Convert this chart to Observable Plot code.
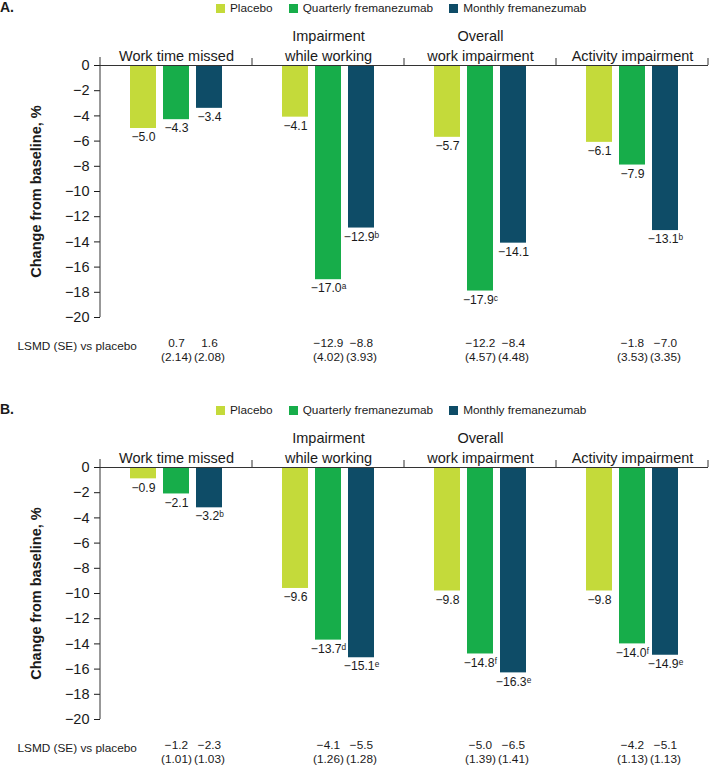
<!DOCTYPE html>
<html>
<head>
<meta charset="utf-8">
<script src="https://cdn.jsdelivr.net/npm/d3@7"></script>
<script src="https://cdn.jsdelivr.net/npm/@observablehq/plot@0.6"></script>
<style>
  html, body { margin: 0; padding: 0; background: #fff; }
  body { width: 709px; height: 765px; overflow: hidden; font-family: "Liberation Sans", Arial, sans-serif; color: #1a1a1a; }
  .panel { position: relative; width: 709px; height: 402px; }
  .panel-letter { position: absolute; left: 0px; top: 0px; font-weight: bold; font-size: 14px; line-height: 14px; }
  .legend-wrap { position: absolute; left: 216px; top: 0px; }
  .lg-swatches { font-size: 11.8px !important; font-family: "Liberation Sans", Arial, sans-serif !important; color: #1a1a1a !important; min-height: 16px !important; margin: 0 !important; }
  .lg-swatch { margin-right: 16px !important; }
  .lg-swatch > svg { margin-right: 5px !important; }
  .panel svg.plot { position: absolute; left: 0; top: 0; }
</style>
</head>
<body>
<div id="root"></div>
<script>
// ---------- shared data ----------
const categories = ["Work time missed", "Impairment while working", "Overall work impairment", "Activity impairment"];
const categoryLabels = ["Work time missed", "Impairment\nwhile working", "Overall\nwork impairment", "Activity impairment"];
const treatments = ["Placebo", "Quarterly fremanezumab", "Monthly fremanezumab"];
const colors = ["#c4da3a", "#17ad4a", "#0e4c67"];
const yTicks = [0, -2, -4, -6, -8, -10, -12, -14, -16, -18, -20];
const yLabel = "Change from baseline, %";
const lsmdLabel = "LSMD (SE) vs placebo";

// ---------- panel A ----------
const placeboA = [-5.0, -4.1, -5.7, -6.1];
const quarterlyA = [-4.3, -17.0, -17.9, -7.9];
const monthlyA = [-3.4, -12.9, -14.1, -13.1];
const placeboNotesA = ["", "", "", ""];
const quarterlyNotesA = ["", "ᵃ", "ᶜ", ""];
const monthlyNotesA = ["", "ᵇ", "", "ᵇ"];
const lsmdQuarterlyA = [0.7, -12.9, -12.2, -1.8];
const seQuarterlyA = [2.14, 4.02, 4.57, 3.53];
const lsmdMonthlyA = [1.6, -8.8, -8.4, -7.0];
const seMonthlyA = [2.08, 3.93, 4.48, 3.35];

// ---------- panel B ----------
const placeboB = [-0.9, -9.6, -9.8, -9.8];
const quarterlyB = [-2.1, -13.7, -14.8, -14.0];
const monthlyB = [-3.2, -15.1, -16.3, -14.9];
const placeboNotesB = ["", "", "", ""];
const quarterlyNotesB = ["", "ᵈ", "ᶠ", "ᶠ"];
const monthlyNotesB = ["ᵇ", "ᵉ", "ᵉ", "ᵉ"];
const lsmdQuarterlyB = [-1.2, -4.1, -5.0, -4.2];
const seQuarterlyB = [1.01, 1.26, 1.39, 1.13];
const lsmdMonthlyB = [-2.3, -5.5, -6.5, -5.1];
const seMonthlyB = [1.03, 1.28, 1.41, 1.13];

const FONT = "'Liberation Sans', Arial, sans-serif";
const minus = s => s.replace("-", "\u2212");
const fmt1 = v => minus(v.toFixed(1));
const fmt2 = v => v.toFixed(2);
const fmtTick = v => minus(String(v));

function makePanel(letter, series, notes, lsmdQ, seQ, lsmdM, seM) {
  const bars = [];
  categories.forEach((c, i) => {
    treatments.forEach((t, j) => {
      bars.push({cat: c, trt: t, value: series[j][i], label: fmt1(series[j][i]) + notes[j][i]});
    });
  });
  const lsmd = [];
  categories.forEach((c, i) => {
    lsmd.push({cat: c, trt: treatments[1], text: fmt1(lsmdQ[i]) + "\n(" + fmt2(seQ[i]) + ")"});
    lsmd.push({cat: c, trt: treatments[2], text: fmt1(lsmdM[i]) + "\n(" + fmt2(seM[i]) + ")"});
  });

  const panel = document.createElement("div");
  panel.className = "panel";

  const plot = Plot.plot({
    width: 709,
    height: 372,
    marginLeft: 100,
    marginRight: 1,
    marginTop: 65,
    marginBottom: 55,
    style: {fontFamily: FONT, fontSize: "14.5px", color: "#1a1a1a", background: "transparent", overflow: "visible"},
    fx: {domain: categories, padding: 0, label: null},
    x: {domain: treatments, paddingInner: 0.2, paddingOuter: 0.85, axis: null},
    y: {domain: [-20, 0]},
    color: {domain: treatments, range: colors},
    marks: [
      Plot.barY(bars, {fx: "cat", x: "trt", y: "value", fill: "trt"}),
      Plot.ruleY([0], {stroke: "#333", strokeWidth: 1}),
      Plot.text(bars, {fx: "cat", x: "trt", y: "value", text: "label", lineAnchor: "top", dy: 4, fontSize: 12.2}),
      Plot.axisY({ticks: yTicks, tickSize: 6, tickPadding: 5, label: null, tickFormat: fmtTick}),
      Plot.axisFx({anchor: "top", tickSize: 0, tickPadding: 5, label: null, lineHeight: 1.35,
        tickFormat: d => categoryLabels[categories.indexOf(d)]}),
      Plot.text(lsmd, {fx: "cat", x: "trt", text: "text", frameAnchor: "bottom", lineAnchor: "top", dy: 20, lineHeight: 1.15, fontSize: 11.8}),
      Plot.text([yLabel], {fx: () => categories[0], frameAnchor: "left", textAnchor: "middle", rotate: -90, dx: -64, fontWeight: "bold", fontSize: 14.5}),
      Plot.text([lsmdLabel], {fx: () => categories[0], frameAnchor: "bottom-left", textAnchor: "start", dx: -83, dy: 32, fontSize: 11.8})
    ]
  });

  // axis line and category separators derived from the plot's own scales
  const fx = plot.scale("fx");
  const y = plot.scale("y");
  const y0 = y.apply(0), y20 = y.apply(-20);
  const g = d3.select(plot).append("g").attr("stroke", "#333").attr("stroke-width", 1);
  const xLeft = fx.apply(categories[0]);
  g.append("line").attr("x1", xLeft).attr("x2", xLeft).attr("y1", y0 - 8).attr("y2", y20);
  categories.forEach(c => {
    const xe = fx.apply(c) + fx.bandwidth;
    g.append("line").attr("x1", xe).attr("x2", xe).attr("y1", y0 - 7).attr("y2", y0);
  });

  panel.appendChild(plot);

  const letterDiv = document.createElement("div");
  letterDiv.className = "panel-letter";
  letterDiv.textContent = letter;
  panel.appendChild(letterDiv);

  const legendWrap = document.createElement("div");
  legendWrap.className = "legend-wrap";
  legendWrap.appendChild(Plot.legend({
    color: {domain: treatments, range: colors},
    legend: "swatches",
    swatchSize: 9,
    className: "lg"
  }));
  panel.appendChild(legendWrap);

  return panel;
}

const root = document.getElementById("root");
root.appendChild(makePanel("A.", [placeboA, quarterlyA, monthlyA], [placeboNotesA, quarterlyNotesA, monthlyNotesA],
  lsmdQuarterlyA, seQuarterlyA, lsmdMonthlyA, seMonthlyA));
root.appendChild(makePanel("B.", [placeboB, quarterlyB, monthlyB], [placeboNotesB, quarterlyNotesB, monthlyNotesB],
  lsmdQuarterlyB, seQuarterlyB, lsmdMonthlyB, seMonthlyB));
</script>
</body>
</html>
